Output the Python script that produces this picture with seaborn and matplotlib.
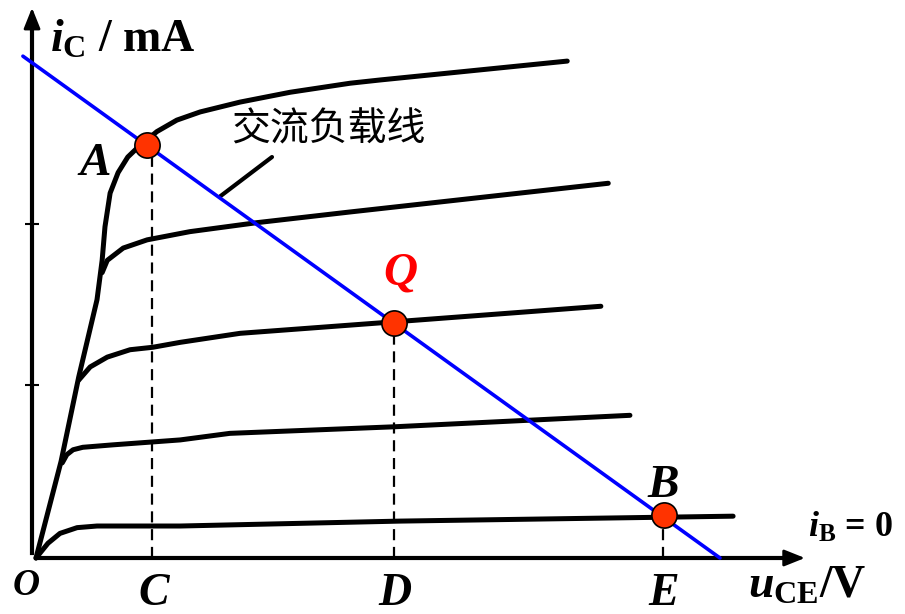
import numpy as np
import pandas as pd
import matplotlib
matplotlib.use("Agg")
import matplotlib.pyplot as plt
import seaborn as sns

# ---------------- data (u_CE in V, i_C in mA) ----------------
iB0_u = [0.00, 0.21, 0.42, 0.72, 1.07, 2.53, 6.39, 12.23]
iB0_i = [0.00, 0.18, 0.30, 0.37, 0.39, 0.39, 0.45, 0.51]
iB1_u = [0.46, 0.54, 0.65, 0.82, 1.35, 2.53, 3.40, 6.28, 10.42]
iB1_i = [1.16, 1.26, 1.32, 1.35, 1.38, 1.44, 1.52, 1.60, 1.74]
iB2_u = [0.75, 0.95, 1.25, 1.65, 2.05, 2.53, 3.58, 6.28, 9.91]
iB2_i = [2.17, 2.33, 2.45, 2.54, 2.57, 2.63, 2.74, 2.88, 3.07]
iB3_u = [1.16, 1.25, 1.53, 1.95, 2.70, 3.88, 5.51, 10.04]
iB3_i = [3.48, 3.63, 3.78, 3.88, 3.98, 4.09, 4.22, 4.57]
iB4_u = [0.00, 0.44, 0.75, 1.07, 1.16, 1.21, 1.30, 1.44, 1.61, 1.79, 2.12,
         2.47, 2.88, 3.58, 4.46, 5.51, 6.04, 9.32]
iB4_i = [0.00, 1.18, 2.21, 3.15, 3.63, 4.04, 4.45, 4.70, 4.89, 5.01, 5.20,
         5.34, 5.44, 5.56, 5.68, 5.79, 5.83, 6.06]

load_u = [-0.23, 12.0]
load_i = [6.12, 0.0]

pt_names = ["A", "Q", "B"]
pt_u = [1.95, 6.28, 11.02]
pt_i = [5.04, 2.87, 0.52]

drop_names = ["C", "D", "E"]
drop_u = [2.04, 6.28, 11.00]

y_ticks = [2.11, 4.07]
leader_u = [3.23, 4.14]
leader_i = [4.41, 4.89]

# ---------------- figure ----------------
sns.set_style("white")
plt.rcParams["font.family"] = ["Liberation Serif", "Noto Sans CJK SC", "DejaVu Sans"]
plt.rcParams["text.color"] = "black"
plt.rcParams["mathtext.fontset"] = "custom"
plt.rcParams["mathtext.rm"] = "Liberation Serif:bold"
plt.rcParams["mathtext.it"] = "Liberation Serif:italic:bold"
plt.rcParams["mathtext.bf"] = "Liberation Serif:bold"

fig = plt.figure(figsize=(9.05, 6.14), dpi=100)
ax = fig.add_axes([0, 0, 1, 1])
ax.set_xlim(-0.632, 15.246)
ax.set_ylim(-0.683, 6.805)

curves = []
for name, uu, ii in [("0", iB0_u, iB0_i), ("1", iB1_u, iB1_i), ("2", iB2_u, iB2_i),
                     ("3", iB3_u, iB3_i), ("4", iB4_u, iB4_i)]:
    curves.append(pd.DataFrame({"u": uu, "i": ii, "curve": name}))
df = pd.concat(curves, ignore_index=True)

sns.lineplot(data=df, x="u", y="i", units="curve", estimator=None, sort=False,
             color="black", lw=3.6, ax=ax, zorder=3, solid_capstyle="round",
             solid_joinstyle="round", legend=False)

# dashed drop lines
ax.vlines(drop_u, 0, pt_i, colors="black", linestyles=(0, (5, 3)), lw=1.6, zorder=2)

# load line
sns.lineplot(x=load_u, y=load_i, color="#0000FF", lw=2.6, ax=ax, zorder=4,
             sort=False, estimator=None)

# operating points
sns.scatterplot(x=pt_u, y=pt_i, s=330, color="#FF3300", edgecolor="black",
                linewidth=1.2, ax=ax, zorder=6)

# leader line for label
sns.lineplot(x=leader_u, y=leader_i, color="black", lw=3, ax=ax, zorder=3,
             sort=False, estimator=None)

# ---------------- axes ----------------
ax.set_xlabel("")
ax.set_ylabel("")
for s in ["top", "right"]:
    ax.spines[s].set_visible(False)
ax.spines["left"].set_position(("data", -0.07))
ax.spines["left"].set_bounds(0.06, 6.5)
ax.spines["left"].set_linewidth(3)
ax.spines["left"].set_color("black")
ax.spines["bottom"].set_position(("data", 0))
ax.spines["bottom"].set_bounds(0, 13.25)
ax.spines["bottom"].set_linewidth(3)
ax.spines["bottom"].set_color("black")
ax.set_xticks([])
ax.set_yticks(y_ticks)
ax.set_yticklabels([])
ax.tick_params(axis="y", direction="inout", length=9.5, width=1.5, color="black", left=True)

arrow = dict(arrowstyle="-|>,head_length=0.7,head_width=0.28", color="black",
             lw=2, shrinkA=0, shrinkB=0, mutation_scale=18)
ax.annotate("", xy=(-0.07, 6.71), xytext=(-0.07, 6.3), arrowprops=arrow)
ax.annotate("", xy=(13.49, 0), xytext=(13.0, 0), arrowprops=arrow)

# ---------------- text ----------------
lab = dict(fontfamily="Liberation Serif", fontweight="bold", fontstyle="italic",
           ha="center", va="baseline", color="black")
ax.text(1.04, 4.67, "A", fontsize=34, **lab)
ax.text(11.00, 0.74, "B", fontsize=34, **lab)
ax.text(6.40, 3.33, "Q", fontsize=34, **{**lab, "color": "#FF0000"})
for n, u in zip(drop_names, drop_u):
    ax.text(u + 0.02, -0.57, n, fontsize=33, **lab)
ax.text(-0.18, -0.45, "O", fontsize=27, **lab)

ax.text(0.25, 6.17, r"$i_{\mathrm{C}}$ / mA", fontsize=33, fontweight="bold",
        fontfamily="Liberation Serif", ha="left", va="baseline", color="black")
ax.text(12.49, -0.48, r"$u_{\mathrm{CE}}$/V", fontsize=33, fontweight="bold",
        fontfamily="Liberation Serif", ha="left", va="baseline", color="black")
ax.text(13.54, 0.26, r"$i_{\mathrm{B}}$ = 0", fontsize=26, fontweight="bold",
        fontfamily="Liberation Serif", ha="left", va="baseline", color="black")

ax.text(5.12, 5.23, "交流负载线", fontsize=28, fontfamily=["Noto Sans CJK SC"],
        ha="center", va="center", color="black")

fig.savefig("out.png", dpi=100)
